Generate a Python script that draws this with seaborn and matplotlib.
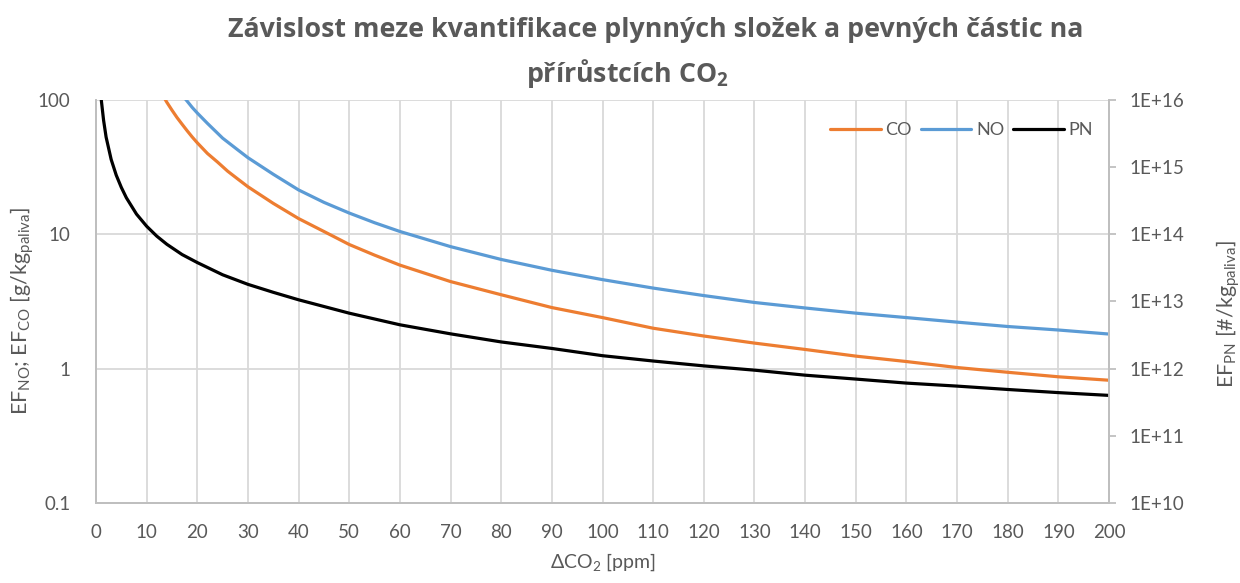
import matplotlib
matplotlib.use("Agg")
import matplotlib.pyplot as plt
import seaborn as sns
from matplotlib.ticker import FixedLocator, FixedFormatter, NullLocator

# ΔCO2 increments [ppm] and emission-factor quantification limits
x_co = [12, 14, 15, 16, 17, 18, 19, 20, 22, 24, 26, 28, 30, 35, 40, 45, 50, 55,
        60, 70, 80, 90, 100, 110, 120, 130, 140, 150, 160, 170, 180, 190, 200]
ef_co = [129, 96, 84, 74, 66, 59, 53, 48, 40, 34.5, 29.5, 25.8, 22.6, 17.0, 13.1,
         10.5, 8.4, 7.0, 5.9, 4.45, 3.55, 2.85, 2.4, 2.0, 1.75, 1.55, 1.39, 1.24,
         1.13, 1.02, 0.94, 0.87, 0.82]

x_no = [16, 17, 18, 19, 20, 22, 25, 28, 30, 35, 40, 45, 50, 55, 60, 70, 80, 90,
        100, 110, 120, 130, 140, 150, 160, 170, 180, 190, 200]
ef_no = [122, 109, 98, 88, 80, 67, 52, 42.5, 37.2, 28, 21.4, 17.3, 14.4, 12.2,
         10.5, 8.1, 6.5, 5.4, 4.6, 3.98, 3.5, 3.11, 2.83, 2.59, 2.40, 2.22, 2.06,
         1.94, 1.81]

x_pn = [1, 1.5, 2, 3, 4, 5, 6, 8, 10, 12, 14, 17, 20, 25, 30, 35, 40, 50, 60,
        70, 80, 90, 100, 110, 120, 130, 140, 150, 160, 170, 180, 190, 200]
ef_pn = [1.08e16, 5.0e15, 2.8e15, 1.3e15, 7.6e14, 5.0e14, 3.5e14, 2.0e14,
         1.32e14, 9.4e13, 7.1e13, 5.0e13, 3.8e13, 2.5e13, 1.8e13, 1.37e13,
         1.06e13, 6.7e12, 4.5e12, 3.3e12, 2.5e12, 2.0e12, 1.56e12, 1.3e12,
         1.1e12, 9.5e11, 8.0e11, 7.0e11, 6.1e11, 5.5e11, 4.9e11, 4.4e11, 4.0e11]

x_ticks = list(range(0, 201, 10))
left_ticks = [0.1, 1, 10, 100]
left_labels = ["0.1", "1", "10", "100"]
right_ticks = [1e10, 1e11, 1e12, 1e13, 1e14, 1e15, 1e16]
right_labels = ["1E+10", "1E+11", "1E+12", "1E+13", "1E+14", "1E+15", "1E+16"]

C_CO = "#ED7D31"
C_NO = "#5B9BD5"
C_PN = "#000000"
TXT = "#595959"
GRID = "#D9D9D9"
AXLINE = "#BFBFBF"

sns.set_style("white")
plt.rcParams["font.family"] = ["Lato", "DejaVu Sans"]
plt.rcParams["mathtext.fontset"] = "custom"
plt.rcParams["mathtext.rm"] = "Lato"
plt.rcParams["mathtext.it"] = "Lato:italic"
plt.rcParams["mathtext.bf"] = "Open Sans:bold"

fig = plt.figure(figsize=(12.4, 5.83), dpi=100)
ax = fig.add_axes([0.0774, 0.1372, 0.8170, 0.6913])
ax2 = ax.twinx()

sns.lineplot(x=x_co, y=ef_co, ax=ax, color=C_CO, linewidth=2.3, label="CO", legend=False)
sns.lineplot(x=x_no, y=ef_no, ax=ax, color=C_NO, linewidth=2.3, label="NO", legend=False)
sns.lineplot(x=x_pn, y=ef_pn, ax=ax2, color=C_PN, linewidth=2.3, label="PN", legend=False)

ax.set_xlim(0, 200)
ax.set_yscale("log")
ax.set_ylim(0.1, 100)
ax2.set_yscale("log")
ax2.set_ylim(1e10, 1e16)

ax.xaxis.set_major_locator(FixedLocator(x_ticks))
ax.set_xticklabels([str(t) for t in x_ticks])
ax.yaxis.set_major_locator(FixedLocator(left_ticks))
ax.yaxis.set_major_formatter(FixedFormatter(left_labels))
ax.yaxis.set_minor_locator(NullLocator())
ax2.yaxis.set_major_locator(FixedLocator(right_ticks))
ax2.yaxis.set_major_formatter(FixedFormatter(right_labels))
ax2.yaxis.set_minor_locator(NullLocator())

ax.grid(True, which="major", color=GRID, linewidth=1.3)
ax.set_axisbelow(True)
ax2.grid(False)

for a in (ax, ax2):
    for side, sp in a.spines.items():
        sp.set_color(AXLINE)
        sp.set_linewidth(1.3)
    a.spines["top"].set_visible(False)

ax.tick_params(axis="x", length=0, pad=15, labelsize=13.5, labelcolor=TXT)
ax.tick_params(axis="y", length=0, pad=18.5, labelsize=13.5, labelcolor=TXT)
ax2.tick_params(axis="y", direction="out", length=5, width=1.3, color=AXLINE,
                pad=10, labelsize=13.5, labelcolor=TXT)

ax.set_xlabel(r"ΔCO$_2$ [ppm]", fontsize=14, color=TXT, labelpad=8)
ax.set_ylabel(r"EF$_\mathrm{NO}$; EF$_\mathrm{CO}$ [g/kg$_\mathrm{paliva}$]",
              fontsize=15.5, color=TXT)
ax2.set_ylabel(r"EF$_\mathrm{PN}$ [#/kg$_\mathrm{paliva}$]",
               fontsize=15.5, color=TXT)
ax.yaxis.set_label_coords(-0.073, 0.476)
ax2.yaxis.set_label_coords(1.118, 0.469)
ax.yaxis.label.set_verticalalignment("center")
ax2.yaxis.label.set_verticalalignment("center")

h1, l1 = ax.get_legend_handles_labels()
h2, l2 = ax2.get_legend_handles_labels()
ax2.legend(h1 + h2, l1 + l2, loc="upper right", bbox_to_anchor=(1.0, 0.985),
           ncol=3, frameon=False, fontsize=13, handlelength=2.8,
           handletextpad=0.25, columnspacing=0.5, labelcolor=TXT)

fig.text(0.529, 0.948, "Závislost meze kvantifikace plynných složek a pevných částic na",
         ha="center", va="center", fontsize=19.3, fontweight="bold",
         family="Open Sans", color=TXT)
fig.text(0.506, 0.874, r"přírůstcích CO$_\mathbf{2}$",
         ha="center", va="center", fontsize=19.3, fontweight="bold",
         family="Open Sans", color=TXT)

fig.savefig("out.png", dpi=100)
